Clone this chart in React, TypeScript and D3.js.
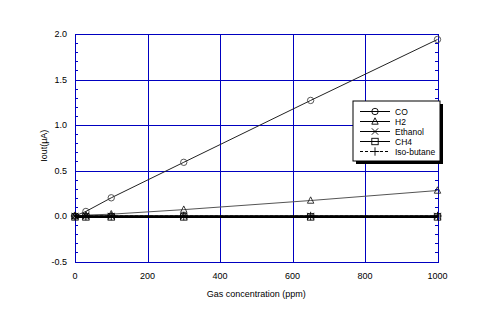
import React from "react";
import * as d3 from "d3";

const conc = [0, 30, 100, 300, 650, 1000];
const coVals = [0, 0.05, 0.2, 0.59, 1.27, 1.94];
const h2Vals = [0, 0.01, 0.02, 0.07, 0.17, 0.28];
const ethanolVals = [0, 0, 0, 0, 0, 0];
const ch4Vals = [-0.01, -0.01, -0.01, -0.01, -0.01, -0.01];
const isoVals = [0, 0, 0, 0, 0, 0];
const xTicks = [0, 200, 400, 600, 800, 1000];
const yTicks = [-0.5, 0, 0.5, 1.0, 1.5, 2.0];
const legendNames = ["CO", "H2", "Ethanol", "CH4", "Iso-butane"];

const W = 481, H = 311;
const L = 75, R = 437.5, T = 34, B = 261.5;
const font = "Liberation Sans, Arial, sans-serif";
const blue = "#0000c0";

function Marker({ type, x, y, color = "#000" }: { type: string; x: number; y: number; color?: string }) {
  const s = 3.2;
  if (type === "circle") return <circle cx={x} cy={y} r={s} fill="none" stroke={color} strokeWidth={0.9} />;
  if (type === "triangle")
    return <path d={`M${x},${y - s - 0.5}L${x + s},${y + s - 0.5}L${x - s},${y + s - 0.5}Z`} fill="none" stroke={color} strokeWidth={0.9} />;
  if (type === "x")
    return <path d={`M${x - s},${y - s}L${x + s},${y + s}M${x - s},${y + s}L${x + s},${y - s}`} stroke={color} strokeWidth={0.9} />;
  if (type === "square") return <rect x={x - s} y={y - s} width={2 * s} height={2 * s} fill="none" stroke={color} strokeWidth={0.9} />;
  return <path d={`M${x - s - 1},${y}L${x + s + 1},${y}M${x},${y - s - 1}L${x},${y + s + 1}`} stroke={color} strokeWidth={0.9} />;
}

export default function App() {
  const x = d3.scaleLinear().domain([0, 1000]).range([L, R]);
  const y = d3.scaleLinear().domain([-0.5, 2.0]).range([B, T]);
  const line = d3.line<[number, number]>().x((d) => x(d[0])).y((d) => y(d[1]));
  const series = [
    { vals: coVals, marker: "circle", color: "#222", mcolor: "#444", width: 1, dash: "" },
    { vals: h2Vals, marker: "triangle", color: "#555", mcolor: "#222", width: 1, dash: "" },
    { vals: ethanolVals, marker: "x", color: "#000", mcolor: "#000", width: 1.5, dash: "" },
    { vals: ch4Vals, marker: "square", color: "#000", mcolor: "#000", width: 2.2, dash: "" },
    { vals: isoVals, marker: "plus", color: "#000", mcolor: "#000", width: 1, dash: "3,2" },
  ];
  const minor = d3.range(-0.4, 2.0, 0.1);
  const lx = 353, ly = 101, lw = 87, lh = 60;
  const px = (v: number) => Math.round(v) + 0.5;
  return (
    <svg width={W} height={H} style={{ position: "absolute", left: 0, top: 0, background: "#fff" }}>
      <rect x={0} y={0} width={W} height={H} fill="#fff" />
      {/* grid */}
      <g shapeRendering="crispEdges">
        {xTicks.slice(1, -1).map((t) => (
          <line key={"gx" + t} x1={px(x(t))} x2={px(x(t))} y1={T} y2={B} stroke={blue} strokeWidth={1} />
        ))}
        {yTicks.slice(1, -1).map((t) => (
          <line key={"gy" + t} x1={L} x2={R} y1={px(y(t))} y2={px(y(t))} stroke={blue} strokeWidth={1} />
        ))}
        {minor.map((t) => (
          <g key={"m" + t}>
            <line x1={L} x2={L + 3} y1={px(y(t))} y2={px(y(t))} stroke={blue} strokeWidth={1} />
            <line x1={R - 3} x2={R} y1={px(y(t))} y2={px(y(t))} stroke={blue} strokeWidth={1} />
          </g>
        ))}
        <rect x={px(L)} y={px(T)} width={Math.round(R - L)} height={Math.round(B - T)} fill="none" stroke={blue} strokeWidth={1} />
      </g>
      {/* series */}
      {series.map((s, i) => (
        <g key={"s" + i}>
          <path
            d={line(conc.map((c, j) => [c, s.vals[j]] as [number, number])) || ""}
            fill="none"
            stroke={s.color}
            strokeWidth={s.width}
            strokeDasharray={s.dash}
          />
          {conc.map((c, j) => (
            <Marker key={j} type={s.marker} x={x(c)} y={y(s.vals[j])} color={s.mcolor} />
          ))}
        </g>
      ))}
      {/* tick labels */}
      {xTicks.map((t) => (
        <text key={"xt" + t} x={x(t)} y={279} textAnchor="middle" fontFamily={font} fontSize={9} fill="#000">
          {t}
        </text>
      ))}
      {yTicks.map((t) => (
        <text key={"yt" + t} x={67} y={y(t) + 3} textAnchor="end" fontFamily={font} fontSize={9} fill="#000">
          {t.toFixed(1)}
        </text>
      ))}
      <text x={(L + R) / 2} y={297} textAnchor="middle" fontFamily={font} fontSize={9} fill="#000">
        Gas concentration (ppm)
      </text>
      <text transform={`translate(47,${(T + B) / 2 - 2}) rotate(-90)`} textAnchor="middle" fontFamily={font} fontSize={9} fill="#000">
        Iout(μA)
      </text>
      {/* legend */}
      <rect x={lx + 3} y={ly + 3} width={lw} height={lh} fill="#000" />
      <rect x={lx} y={ly} width={lw} height={lh} fill="#fff" stroke="#000" strokeWidth={1} />
      {legendNames.map((n, i) => {
        const yy = ly + 10.5 + i * 10;
        const s = series[i];
        return (
          <g key={"l" + i}>
            <line x1={lx + 7} x2={lx + 37} y1={yy} y2={yy} stroke="#000" strokeWidth={1} strokeDasharray={i === 4 ? "3,2" : ""} />
            <Marker type={s.marker} x={lx + 22} y={yy} color="#000" />
            <text x={lx + 42} y={yy + 3} fontFamily={font} fontSize={8.5} fill="#000">
              {n}
            </text>
          </g>
        );
      })}
    </svg>
  );
}
